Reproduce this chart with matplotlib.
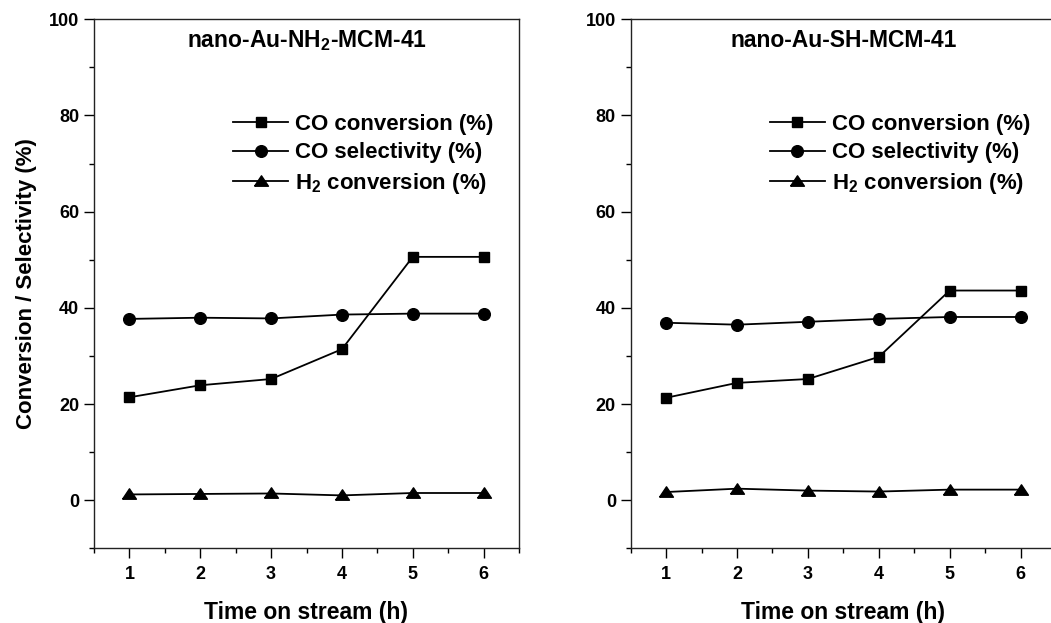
import matplotlib
matplotlib.use("Agg")
import matplotlib.pyplot as plt
from matplotlib.ticker import MultipleLocator

plt.rcParams['font.family'] = ['Liberation Sans', 'DejaVu Sans']
plt.rcParams['font.weight'] = 'bold'
plt.rcParams['mathtext.fontset'] = 'custom'
plt.rcParams['mathtext.rm'] = 'Liberation Sans:bold'
plt.rcParams['mathtext.it'] = 'Liberation Sans:bold'
plt.rcParams['mathtext.bf'] = 'Liberation Sans:bold'

# Time on stream (h)
hours = [1, 2, 3, 4, 5, 6]

# nano-Au-NH2-MCM-41
nh2_co_conv = [21.4, 23.9, 25.2, 31.4, 50.6, 50.6]
nh2_co_sel = [37.7, 37.95, 37.8, 38.6, 38.8, 38.8]
nh2_h2_conv = [1.2, 1.3, 1.4, 1.0, 1.5, 1.5]

# nano-Au-SH-MCM-41
sh_co_conv = [21.3, 24.4, 25.2, 29.8, 43.6, 43.6]
sh_co_sel = [36.9, 36.5, 37.1, 37.7, 38.1, 38.1]
sh_h2_conv = [1.7, 2.4, 2.0, 1.8, 2.2, 2.2]

titles = ['nano-Au-NH$_2$-MCM-41', 'nano-Au-SH-MCM-41']
series_labels = ['CO conversion (%)', 'CO selectivity (%)', 'H$_2$ conversion (%)']
xlabel = 'Time on stream (h)'
ylabel = 'Conversion / Selectivity (%)'

# wide, flat triangle marker
tri = [(-1, -0.68), (1, -0.68), (0, 0.82), (-1, -0.68)]
markers = [dict(marker='s', markersize=7.4),
           dict(marker='o', markersize=8.4),
           dict(marker=tri, markersize=10)]

fig = plt.figure(figsize=(10.51, 6.23), dpi=100)
W, H = 1051, 623
bottom_px, top_px = 548.3, 19.3
positions = [(94, 519), (630.7, 1056)]
panels = [(nh2_co_conv, nh2_co_sel, nh2_h2_conv),
          (sh_co_conv, sh_co_sel, sh_h2_conv)]

for i, ((x0, x1), data, title) in enumerate(zip(positions, panels, titles)):
    ax = fig.add_axes([x0 / W, 1 - bottom_px / H, (x1 - x0) / W,
                       (bottom_px - top_px) / H])
    for vals, lab, mk in zip(data, series_labels, markers):
        ax.plot(hours, vals, color='black', lw=1.3, label=lab,
                markerfacecolor='black', markeredgecolor='black', **mk)
    ax.set_xlim(0.5, 6.5)
    ax.set_ylim(-10, 100)
    ax.xaxis.set_major_locator(MultipleLocator(1))
    ax.xaxis.set_minor_locator(MultipleLocator(0.5))
    ax.yaxis.set_minor_locator(MultipleLocator(10))
    ax.set_yticks([0, 20, 40, 60, 80, 100])
    ax.tick_params(which='major', direction='out', length=7, width=1.0,
                   labelsize=13, top=False, right=False)
    ax.tick_params(which='minor', direction='out', length=3.8, width=1.0,
                   top=False, right=False)
    ax.tick_params(axis='x', which='major', pad=6)
    ax.tick_params(axis='y', which='major', pad=3.6)
    for sp in ax.spines.values():
        sp.set_linewidth(1.0)
        sp.set_color('#222222')
    ax.text(0.5, 0.948, title, transform=ax.transAxes, ha='center',
            va='baseline', fontsize=16.5, fontweight='bold')
    ax.set_xlabel(xlabel, fontsize=16.5, fontweight='bold', labelpad=13)
    if i == 0:
        ax.set_ylabel(ylabel, fontsize=16, fontweight='bold')
        ax.yaxis.set_label_coords(-0.135, 0.5)
    ax.legend(loc='upper left', bbox_to_anchor=(0.328, 0.8215), frameon=False,
              fontsize=16, handlelength=2.45, handletextpad=0.34,
              labelspacing=0.34, borderpad=0, borderaxespad=0)

fig.savefig('out.png', dpi=100)
